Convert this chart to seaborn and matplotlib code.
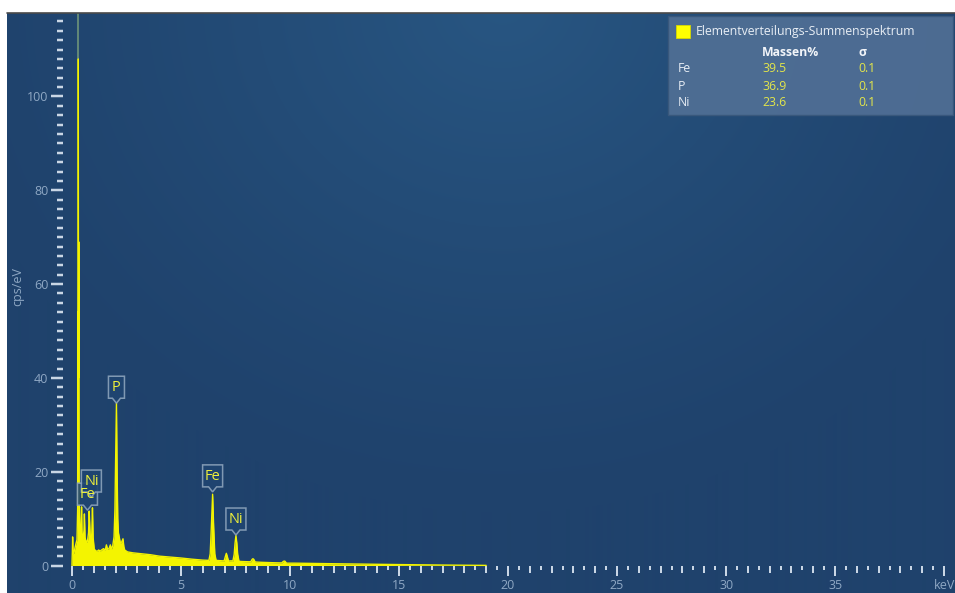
import numpy as np
import pandas as pd
import matplotlib
matplotlib.use("Agg")
import matplotlib.pyplot as plt
import matplotlib.transforms as mtransforms
from matplotlib.patches import Polygon, Rectangle
from matplotlib.ticker import FixedLocator, FuncFormatter
import seaborn as sns

# ---- EDS sum spectrum (energy in keV, intensity in cps/eV) ----
energy_kev = [
    0.00, 0.02, 0.03, 0.05, 0.09, 0.14, 0.19, 0.23, 0.26, 0.27, 0.28, 0.29,
    0.30, 0.31, 0.33, 0.36, 0.40, 0.42, 0.44, 0.46, 0.50, 0.52, 0.55, 0.57,
    0.60, 0.64, 0.68, 0.72, 0.76, 0.79, 0.82, 0.85, 0.88, 0.91, 0.94, 0.97,
    1.02, 1.08, 1.15, 1.22, 1.30, 1.38, 1.45, 1.52, 1.58, 1.63, 1.70, 1.76,
    1.81, 1.87, 1.93, 1.97, 2.00, 2.04, 2.07, 2.10, 2.13, 2.17, 2.22, 2.28,
    2.34, 2.38, 2.42, 2.55, 2.80, 3.20, 3.60, 4.00, 4.50, 5.00, 5.50, 6.00,
    6.28, 6.34, 6.39, 6.45, 6.50, 6.55, 6.61, 6.90, 6.98, 7.04, 7.08, 7.12,
    7.18, 7.30, 7.38, 7.44, 7.48, 7.52, 7.56, 7.60, 7.66, 7.80, 8.10, 8.20,
    8.26, 8.30, 8.34, 8.40, 8.60, 9.20, 9.62, 9.70, 9.76, 9.84, 10.2, 11.0,
    12.0, 13.0, 14.0, 15.0, 16.0, 17.0, 18.0, 19.0,
]
counts_cps = [
    0.0, 3.5, 6.1, 2.5, 2.7, 3.8, 4.8, 5.5, 12.0, 54.0, 20.0, 108.0,
    40.0, 69.0, 14.0, 7.5, 6.5, 9.0, 12.5, 7.0, 5.5, 6.1, 7.5, 11.0,
    6.0, 5.2, 4.9, 5.5, 7.0, 11.6, 8.0, 5.0, 4.5, 7.0, 12.3, 6.0,
    3.5, 3.2, 3.0, 3.3, 3.1, 3.4, 3.6, 3.2, 4.4, 3.5, 3.6, 4.4,
    3.5, 4.2, 6.1, 12.0, 22.0, 34.6, 20.0, 10.0, 7.0, 6.0, 4.8, 5.0,
    5.7, 4.0, 3.3, 2.9, 2.7, 2.5, 2.3, 2.0, 1.8, 1.6, 1.35, 1.15,
    1.1, 2.5, 8.0, 15.2, 8.0, 2.5, 1.1, 1.0, 1.0, 2.0, 2.6, 2.0,
    0.95, 1.0, 0.95, 2.4, 4.8, 6.4, 4.8, 2.4, 0.9, 0.85, 0.8, 0.8,
    1.3, 1.45, 1.3, 0.75, 0.7, 0.6, 0.55, 0.9, 0.95, 0.5, 0.5, 0.45,
    0.38, 0.32, 0.26, 0.2, 0.15, 0.1, 0.06, 0.03,
]

# clipped zero-peak marker line
marker_line_kev = 0.29

# ---- identified peaks ----
peak_names = ["Fe", "Ni", "P", "Fe", "Ni"]
peak_energy = [0.71, 0.89, 2.04, 6.45, 7.52]
peak_height = [11.8, 14.6, 34.6, 15.7, 6.5]

# ---- quantification table ----
legend_title = "Elementverteilungs-Summenspektrum"
table_header = ["Massen%", "σ"]
quant_elements = ["Fe", "P", "Ni"]
quant_mass_pct = [39.5, 36.9, 23.6]
quant_sigma = [0.1, 0.1, 0.1]

# ---- axes ----
x_major = [0, 5, 10, 15, 20, 25, 30, 35, 40]
x_minor = list(np.arange(0, 40.5, 0.5))
x_mid = [v for v in range(0, 41) if v % 5]
y_major = [0, 20, 40, 60, 80, 100]
y_minor = list(range(0, 118, 2))
x_unit = "keV"
y_unit = "cps/eV"

# ---- styling ----
W, H = 955, 593
YELLOW = "#f4f400"
TICK_C = "#c9d6e5"
LABEL_C = "#8fa8c4"
FONT = ["Open Sans", "DejaVu Sans"]
XLIM = (-2.98, 40.5)
YLIM = (-5.86, 117.8)
PT = 0.72  # points per output pixel

sns.set_theme(style="dark")
plt.rcParams["font.family"] = FONT

fig = plt.figure(figsize=(W / 100, H / 100), dpi=100, facecolor="white")
# axes covering the blue panel (pixel box x 7..955, y 13..593)
ax = fig.add_axes([7 / W, 0, 948 / W, 580 / H])

# radial gradient panel background, glow at the top centre
gy, gx = np.mgrid[0:580, 0:948]
d = np.hypot(gx - 495.0, (gy + 10.0) * 1.1) / 560.0
t = np.clip(1.0 - d, 0, 1) ** 1.2
c_edge = np.array([0x1f, 0x42, 0x6c]) / 255
c_mid = np.array([0x28, 0x56, 0x82]) / 255
img = c_edge + (c_mid - c_edge) * t[..., None]
ax.imshow(img, extent=[0, 1, 0, 1], transform=ax.transAxes, aspect="auto",
          zorder=0, interpolation="bilinear")
ax.set_xlim(*XLIM)
ax.set_ylim(*YLIM)
ax.grid(False)

# spectrum
spec = pd.DataFrame({"energy": energy_kev, "cps": counts_cps})
ax.fill_between(spec["energy"], spec["cps"], 0, color=YELLOW, lw=0, zorder=3)
sns.lineplot(data=spec, x="energy", y="cps", ax=ax, color=YELLOW, lw=1.0,
             zorder=4, sort=False, estimator=None)
ax.vlines(marker_line_kev, max(counts_cps), YLIM[1], color="#6f9579", lw=1.2, zorder=2)

# ticks: spines hidden, tick rows offset from the plot origin
for s in ax.spines.values():
    s.set_visible(False)
ax.spines["left"].set_position(("data", -0.39))
ax.spines["bottom"].set_position(("data", -0.21))
ax.xaxis.set_major_locator(FixedLocator(x_major))
ax.xaxis.set_minor_locator(FixedLocator(x_minor))
ax.xaxis.set_major_formatter(FuncFormatter(lambda v, p: x_unit if v == 40 else f"{v:g}"))
ax.yaxis.set_major_locator(FixedLocator(y_major))
ax.yaxis.set_minor_locator(FixedLocator(y_minor))
ax.tick_params(axis="x", which="major", direction="out", length=10 * PT, width=2 * PT,
               color=TICK_C, labelcolor=LABEL_C, labelsize=9, pad=3 * PT,
               bottom=True)
ax.tick_params(axis="x", which="minor", direction="out", length=4 * PT, width=2 * PT,
               color=TICK_C, bottom=True)
ax.tick_params(axis="y", which="major", direction="out", length=12 * PT, width=2.5 * PT,
               color=TICK_C, labelcolor=LABEL_C, labelsize=9, pad=3 * PT, left=True)
ax.tick_params(axis="y", which="minor", direction="out", length=6 * PT, width=2.5 * PT,
               color=TICK_C, left=True)
ax.set_xlabel("")
ax.set_ylabel("")

# integer-keV ticks of intermediate length
tick_tr = mtransforms.blended_transform_factory(ax.transData, ax.transAxes)
y0 = (593 - 566.8) / 580
y1 = (593 - 573.0) / 580
ax.vlines(x_mid, y1, y0, transform=tick_tr, color=TICK_C, lw=2 * PT,
          clip_on=False, zorder=2)

ax.text((18 - 7) / 948, (593 - 287) / 580, y_unit, transform=ax.transAxes,
        rotation=90, ha="center", va="center", color=LABEL_C, fontsize=9)

# transform in image pixels (origin top-left)
pix = mtransforms.Affine2D().scale(1 / W, -1 / H).translate(0, 1) + fig.transFigure

# frame line above the panel
fig.add_artist(plt.Line2D([7, W], [12.5, 12.5], transform=pix, color="#4a4a4a", lw=1.2))

# peak markers
for name, e, h in zip(peak_names, peak_energy, peak_height):
    xd, yd = ax.transData.transform((e, h))
    tx, ty = xd, H - yd
    hw = 8 if len(name) == 1 else 10
    yb = ty - 5
    yt = yb - 22
    verts = [(tx - hw, yt), (tx + hw, yt), (tx + hw, yb), (tx + 4, yb), (tx, ty),
             (tx - 4, yb), (tx - hw, yb)]
    fig.add_artist(Polygon(verts, closed=True, transform=pix, facecolor="#1f4571",
                           edgecolor="#8ca3bb", lw=1.1, alpha=0.9, zorder=5))
    fig.text(tx, yt + 11.5, name, transform=pix, ha="center", va="center",
             color="#eef03a", fontsize=10.5, zorder=6)

# quantification legend
fig.add_artist(Rectangle((668, 16), 285, 99, transform=pix, facecolor="#4f6e94",
                         edgecolor="#3a587c", lw=1.0, alpha=0.95, zorder=5))
fig.add_artist(Rectangle((676, 25), 14, 13, transform=pix, facecolor="#ffff00",
                         edgecolor="#d8d800", lw=0.6, zorder=6))
fig.text(696, 32, legend_title, transform=pix, ha="left", va="center",
         color="#e8eef5", fontsize=8.8, zorder=6)
fig.text(762, 52, table_header[0], transform=pix, ha="left", va="center",
         color="#f2f5f9", fontsize=8.8, fontweight="bold", zorder=6)
fig.text(858, 52, table_header[1], transform=pix, ha="left", va="center",
         color="#f2f5f9", fontsize=8.8, fontweight="bold", zorder=6)
for i, (el, m, s) in enumerate(zip(quant_elements, quant_mass_pct, quant_sigma)):
    y = 69 + 17 * i
    fig.text(678, y, el, transform=pix, ha="left", va="center", color="#e8eef5",
             fontsize=8.8, zorder=6)
    fig.text(762, y, f"{m:.1f}", transform=pix, ha="left", va="center",
             color="#e3e64a", fontsize=8.8, zorder=6)
    fig.text(858, y, f"{s:.1f}", transform=pix, ha="left", va="center",
             color="#e3e64a", fontsize=8.8, zorder=6)

fig.savefig("out.png", dpi=100, facecolor="white")
